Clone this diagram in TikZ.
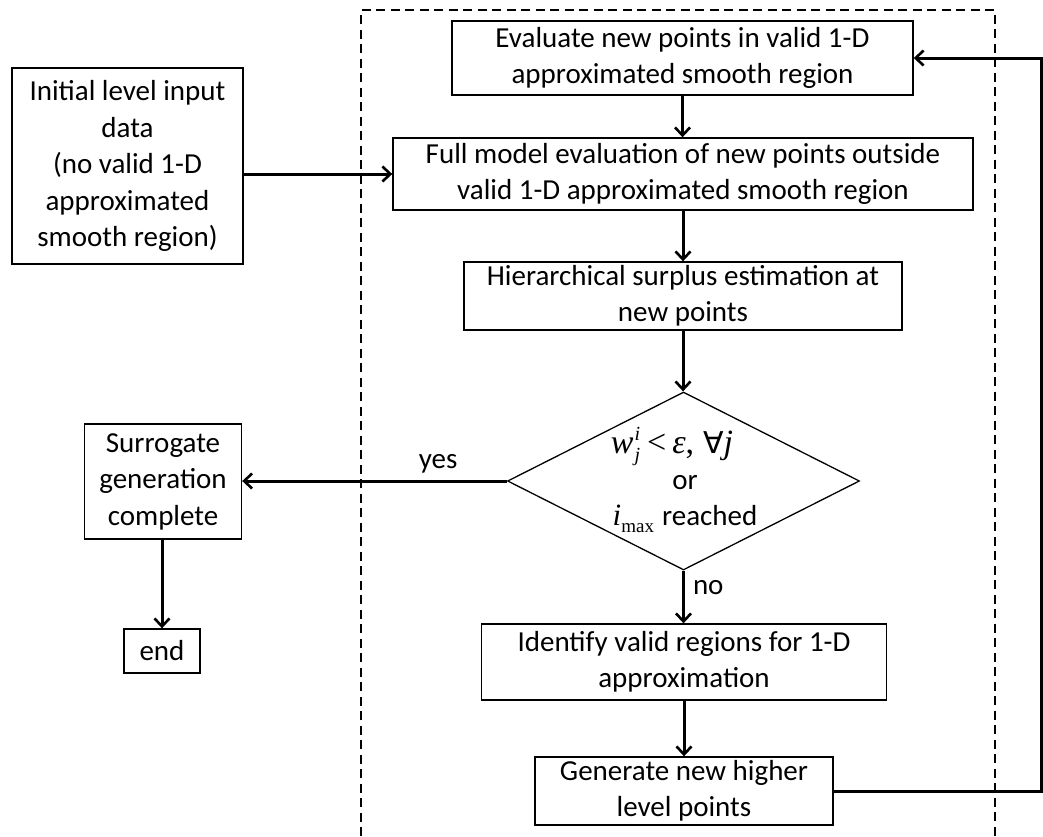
\documentclass[tikz,border=0pt]{standalone}
\usepackage{fontspec}
\setmainfont{Carlito}
\newfontfamily\tms{Liberation Serif}
\newfontfamily\symf{DejaVu Sans}
\usetikzlibrary{arrows.meta,shapes.geometric}

\newcommand{\bigserif}{\fontsize{34}{36.5}\selectfont\tms}
\newcommand{\smallserif}{\fontsize{20}{20}\selectfont\tms\itshape}

\begin{document}
\begin{tikzpicture}[x=1pt,y=-1pt,
  every node/.style={font=\fontsize{29}{36.5}\selectfont},
  procbox/.style={draw, line width=1.4pt, align=center, inner sep=0pt},
  arr/.style={line width=3pt, -{Straight Barb[length=8pt,width=15pt,line width=2.6pt]}},
  frame/.style={line width=1.3pt, dash pattern=on 9pt off 5.5pt}]

\useasboundingbox (0,0) rectangle (1043,836);

% loop region
\draw[frame] (361,836) -- (361,10) -- (995,10) -- (995,836);

% process steps
\node[procbox, minimum width=231pt, minimum height=196pt] (init) at (127.5,166)
  {Initial level input\\data\\(no valid 1-D\\approximated\\smooth region)};
\node[procbox, minimum width=461pt, minimum height=74pt] (eval) at (682.5,58)
  {Evaluate new points in valid 1-D\\approximated smooth region};
\node[procbox, minimum width=580pt, minimum height=72pt] (full) at (683,174)
  {Full model evaluation of new points outside\\valid 1-D approximated smooth region};
\node[procbox, minimum width=438pt, minimum height=68pt] (hier) at (683,296)
  {Hierarchical surplus estimation at\\new points};
\node[diamond, draw, line width=1.3pt, minimum width=352pt, minimum height=178pt,
  inner sep=0pt] (dec) at (683.5,481) {};
\node[align=center, inner sep=0pt] (dectext) at (685,480)
  {{\bigserif\itshape w}\kern1pt\raisebox{-8pt}{\rlap{\smallserif j}}\raisebox{13pt}{\smallserif i}\kern7pt{\bigserif <}\kern6pt{\bigserif\itshape ε}{\bigserif ,}\kern9pt{\fontsize{30}{30}\selectfont\symf ∀}{\bigserif\itshape j}\hspace*{26pt}\\[-1pt]
   or\\
   {\fontsize{31}{31}\selectfont\tms\itshape i}\raisebox{-7pt}{\fontsize{19}{19}\selectfont\tms max}\kern8pt reached};
\node[procbox, minimum width=157pt, minimum height=115pt] (surr) at (163,481.5)
  {Surrogate\\generation\\complete};
\node[procbox, minimum width=76pt, minimum height=44pt] (fin) at (162,651) {end};
\node[procbox, minimum width=405pt, minimum height=76pt] (ident) at (684,662)
  {Identify valid regions for 1-D\\approximation};
\node[procbox, minimum width=298pt, minimum height=68pt] (gen) at (684,791)
  {Generate new higher\\level points};

\coordinate (rc) at (1041.5,0);

% connectors
\draw[arr] (eval.south) -- (eval.south |- full.north);
\draw[arr] (init.east |- full.west) -- (full.west);
\draw[arr] (full.south) -- (full.south |- hier.north);
\draw[arr] (hier.south) -- (hier.south |- dec.north);
\draw[arr] (dec.west) -- (surr.east |- dec.west)
  node[pos=0.26, above=6pt, inner sep=0pt] (yes) {yes};
\draw[arr] (fin.north |- surr.south) -- (fin.north);
\draw[arr] (dec.south) -- (dec.south |- ident.north)
  node[pos=0.33, right=8pt, inner sep=0pt] (no) {no};
\draw[arr] (ident.south) -- (ident.south |- gen.north);
\draw[arr] (gen.east) -- (gen.east -| rc) -- (rc |- eval.east) -- (eval.east);
\end{tikzpicture}
\end{document}
